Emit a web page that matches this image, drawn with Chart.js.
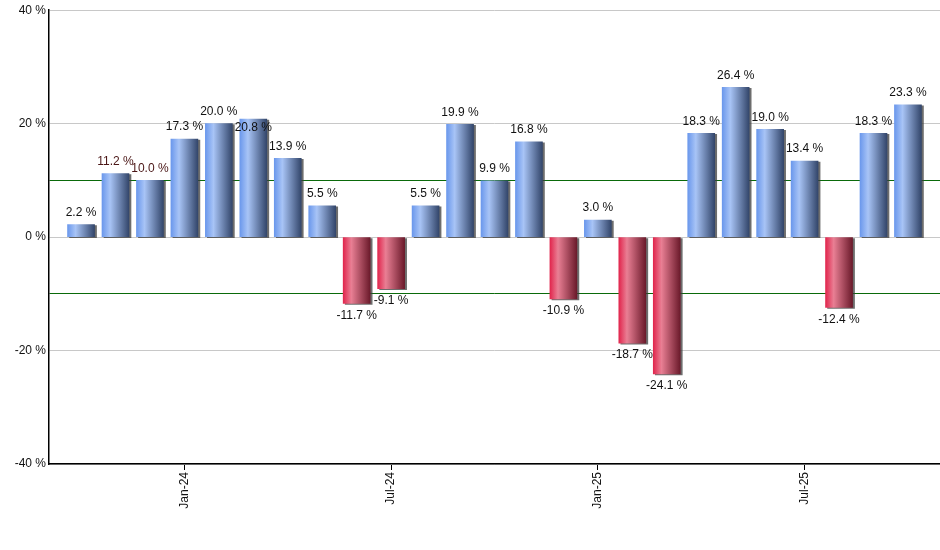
<!DOCTYPE html>
<html>
<head>
<meta charset="utf-8">
<script src="https://cdn.jsdelivr.net/npm/chart.js@4/dist/chart.umd.min.js"></script>
<style>
  body { margin: 0; background: #fff; }
  #wrap { width: 940px; height: 550px; }
</style>
</head>
<body>
<div id="wrap"><canvas id="chart" width="940" height="550"></canvas></div>
<script>
const months = ['Oct-23', 'Nov-23', 'Dec-23', 'Jan-24', 'Feb-24', 'Mar-24', 'Apr-24', 'May-24', 'Jun-24',
  'Jul-24', 'Aug-24', 'Sep-24', 'Oct-24', 'Nov-24', 'Dec-24', 'Jan-25', 'Feb-25', 'Mar-25', 'Apr-25',
  'May-25', 'Jun-25', 'Jul-25', 'Aug-25', 'Sep-25', 'Oct-25'];
const returns = [2.2, 11.2, 10.0, 17.3, 20.0, 20.8, 13.9, 5.5, -11.7, -9.1, 5.5, 19.9, 9.9, 16.8, -10.9,
  3.0, -18.7, -24.1, 18.3, 26.4, 19.0, 13.4, -12.4, 18.3, 23.3];
const tickMonths = ['Jan-24', 'Jul-24', 'Jan-25', 'Jul-25'];
const yTicks = [-40, -20, 0, 20, 40];
const bandLines = [-10, 10];

const BAR_W = 27;
const FONT = '12px "Liberation Sans", Arial, sans-serif';

function barGradient(context) {
  const chart = context.chart;
  const xs = chart.scales.x;
  const up = returns[context.dataIndex] >= 0;
  const fallback = up ? '#7fa3e8' : '#c23a55';
  if (!xs || context.type !== 'data') return fallback;
  const cx = xs.getPixelForValue(context.dataIndex);
  if (!isFinite(cx)) return fallback;
  const g = chart.ctx.createLinearGradient(cx - BAR_W / 2, 0, cx + BAR_W / 2, 0);
  if (up) {
    g.addColorStop(0, '#6b98ec');
    g.addColorStop(0.3, '#a8c4f6');
    g.addColorStop(1, '#33466b');
  } else {
    g.addColorStop(0, '#e1264d');
    g.addColorStop(0.3, '#e97f94');
    g.addColorStop(1, '#6b1a2b');
  }
  return g;
}

const shadowPlugin = {
  id: 'barShadow',
  beforeDatasetsDraw(chart) {
    const ctx = chart.ctx;
    ctx.save();
    ctx.shadowColor = 'rgba(60,60,60,0.75)';
    ctx.shadowOffsetX = 2;
    ctx.shadowOffsetY = 1;
    ctx.shadowBlur = 0;
  },
  afterDatasetsDraw(chart) {
    chart.ctx.restore();
  }
};

const labelPlugin = {
  id: 'valueLabels',
  afterDraw(chart) {
    const ctx = chart.ctx;
    const meta = chart.getDatasetMeta(0);
    ctx.save();
    ctx.font = FONT;
    ctx.textAlign = 'center';
    ctx.textBaseline = 'middle';
    let prev = null;
    meta.data.forEach((bar, i) => {
      const v = returns[i];
      const text = v.toFixed(1) + ' %';
      const w = ctx.measureText(text).width;
      let y = v >= 0 ? bar.y - 12 : bar.y + 12;
      // a label that would sit on top of its neighbour's label moves onto the bar end
      if (prev && Math.abs(y - prev.y) < 6 && Math.abs(bar.x - prev.x) < (w + prev.w) / 2 + 2) {
        y = v >= 0 ? bar.y + 9 : bar.y - 9;
      }
      ctx.fillStyle = (i === 1 || i === 2) ? '#4a1616' : '#111';
      ctx.fillText(text, bar.x, y);
      prev = { x: bar.x, y, w };
    });
    ctx.restore();
  }
};

const chart = new Chart(document.getElementById('chart'), {
  type: 'bar',
  data: {
    datasets: [{
      data: returns.map((v, i) => ({ x: i, y: v })),
      backgroundColor: barGradient,
      borderWidth: 0,
      barThickness: BAR_W
    }]
  },
  options: {
    responsive: false,
    animation: false,
    layout: { padding: { top: 10, right: 0, left: 0, bottom: 0 } },
    plugins: { legend: { display: false }, tooltip: { enabled: false } },
    scales: {
      x: {
        type: 'linear',
        offset: false,
        min: -0.93,
        max: 24.93,
        afterBuildTicks(scale) {
          scale.ticks = tickMonths.map(m => ({ value: months.indexOf(m) }));
        },
        afterFit(scale) { scale.height = 86; },
        ticks: {
          minRotation: 90,
          maxRotation: 90,
          autoSkip: false,
          color: '#111',
          font: { family: '"Liberation Sans", Arial, sans-serif', size: 12 },
          padding: 2,
          callback: v => months[v]
        },
        grid: { drawOnChartArea: false, offset: false, color: '#000', tickLength: 6 },
        border: { color: '#000', width: 1.5 }
      },
      y: {
        min: -40,
        max: 40,
        afterBuildTicks(scale) {
          scale.ticks = yTicks.concat(bandLines).sort((a, b) => a - b).map(v => ({ value: v }));
        },
        afterFit(scale) { scale.width = 49; },
        ticks: {
          color: '#111',
          font: { family: '"Liberation Sans", Arial, sans-serif', size: 12 },
          padding: 3,
          callback: v => yTicks.includes(v) ? v + ' %' : ''
        },
        grid: {
          drawTicks: false,
          color: c => (c.tick && bandLines.includes(Math.round(c.tick.value))) ? '#0a6a0a' : '#c8c8c8',
          lineWidth: 1
        },
        border: { color: '#000', width: 1.5 }
      }
    }
  },
  plugins: [shadowPlugin, labelPlugin]
});
chart.update();
</script>
</body>
</html>
